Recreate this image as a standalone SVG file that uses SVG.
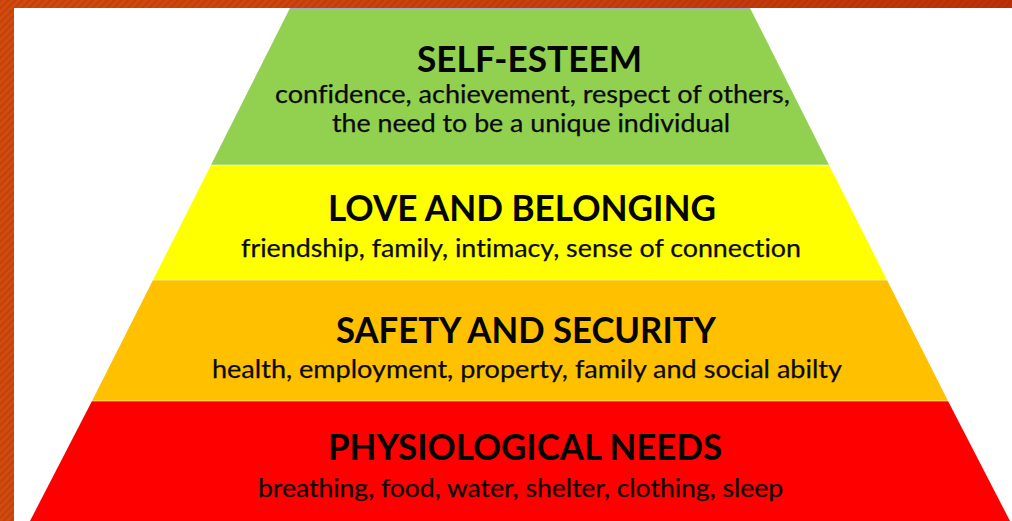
<svg xmlns="http://www.w3.org/2000/svg" width="1012" height="521" viewBox="0 0 1012 521">
  <defs>
    <linearGradient id="frameFill" x1="0" y1="0" x2="1" y2="0">
      <stop offset="0" stop-color="#D24A0E"/>
      <stop offset="0.6" stop-color="#C93E0B"/>
      <stop offset="1" stop-color="#BE3108"/>
    </linearGradient>
    <pattern id="hatch" width="5" height="5" patternUnits="userSpaceOnUse" patternTransform="rotate(45)">
      <rect width="2" height="5" fill="#8A2604" opacity="0.22"/>
    </pattern>
    <style>
      text { font-variant-ligatures: none; font-feature-settings: "liga" 0, "clig" 0; }
      .title { font-family: Lato, "Open Sans", "Liberation Sans", sans-serif; font-weight: 700; font-size: 36px; fill: #050505; }
      .sub { font-family: Lato, "Open Sans", "Liberation Sans", sans-serif; font-weight: 400; font-size: 24.5px; fill: #0a0a0a; stroke: #0a0a0a; stroke-width: 0.25px; }
      .seam { stroke: #ffffff; stroke-opacity: 0.55; stroke-width: 1; }
    </style>
  </defs>

  <!-- textured slide frame -->
  <rect x="0" y="0" width="1012" height="521" fill="url(#frameFill)"/>
  <rect x="0" y="0" width="1012" height="521" fill="url(#hatch)"/>
  <rect x="14" y="8" width="998" height="513" fill="#ffffff"/>

  <!-- pyramid tiers -->
  <g id="tier-self-esteem">
    <polygon points="290,8 750,8 829,165 211,165" fill="#92D050"/>
    <line x1="290" y1="8.5" x2="750" y2="8.5" stroke="#A9A3E6" stroke-width="1" opacity="0.8"/>
    <text class="title" x="417" y="72" textLength="225" lengthAdjust="spacingAndGlyphs">SELF-ESTEEM</text>
    <text class="sub" x="275" y="102.5" textLength="515" lengthAdjust="spacingAndGlyphs">confidence, achievement, respect of others,</text>
    <text class="sub" x="332" y="132" textLength="398" lengthAdjust="spacingAndGlyphs">the need to be a unique individual</text>
  </g>

  <g id="tier-love">
    <polygon points="211,165 829,165 887,280 153,280" fill="#FFFF00"/>
    <text class="title" x="328" y="221" textLength="388" lengthAdjust="spacingAndGlyphs">LOVE AND BELONGING</text>
    <text class="sub" x="241" y="257" textLength="560" lengthAdjust="spacingAndGlyphs">friendship, family, intimacy, sense of connection</text>
  </g>

  <g id="tier-safety">
    <polygon points="153,280 887,280 948,401 92,401" fill="#FFC000"/>
    <text class="title" x="336" y="343" textLength="380" lengthAdjust="spacingAndGlyphs">SAFETY AND SECURITY</text>
    <text class="sub" x="212" y="378" textLength="630" lengthAdjust="spacingAndGlyphs">health, employment, property, family and social abilty</text>
  </g>

  <g id="tier-physiological">
    <polygon points="92,401 948,401 1010,521 30,521" fill="#FF0000"/>
    <text class="title" x="328" y="460" textLength="394" lengthAdjust="spacingAndGlyphs">PHYSIOLOGICAL NEEDS</text>
    <text class="sub" x="258" y="497" textLength="525" lengthAdjust="spacingAndGlyphs">breathing, food, water, shelter, clothing, sleep</text>
  </g>

  <!-- light seams between tiers -->
  <g id="seams">
    <line class="seam" x1="211" y1="165" x2="829" y2="165"/>
    <line class="seam" x1="153" y1="280" x2="887" y2="280"/>
    <line class="seam" x1="92" y1="401" x2="948" y2="401"/>
  </g>
</svg>
